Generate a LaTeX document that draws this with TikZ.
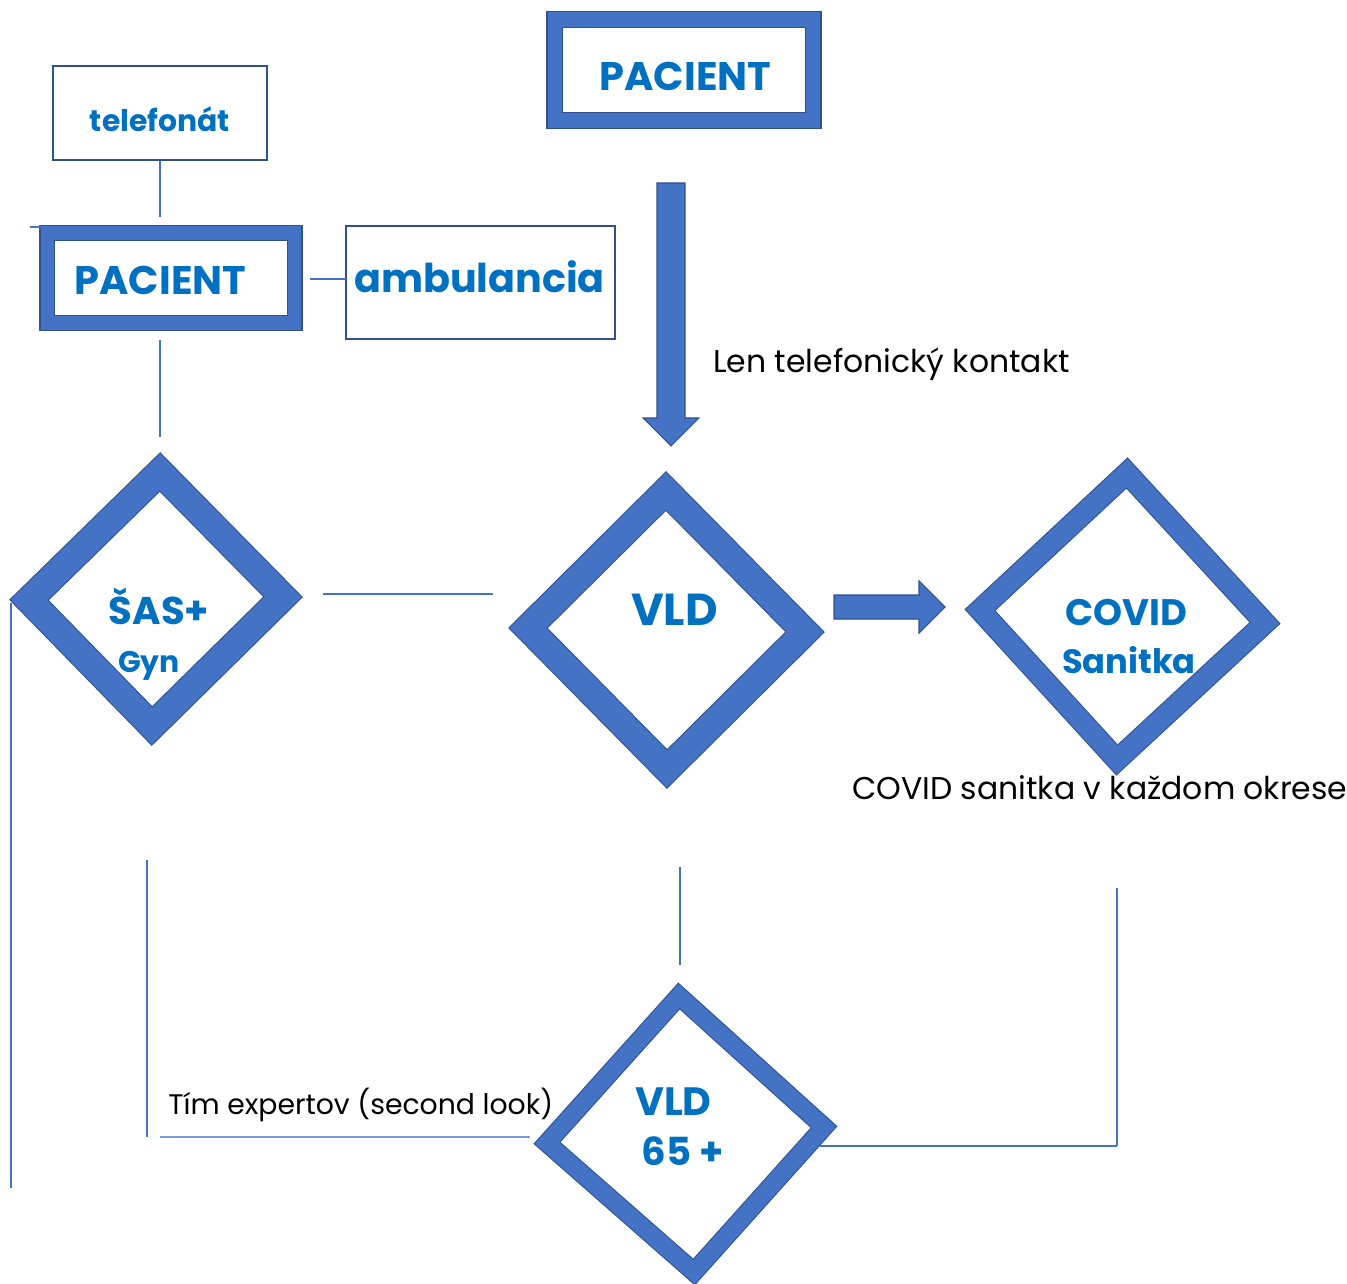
\documentclass[tikz,border=0pt]{standalone}
\usepackage{fontspec}
\setmainfont{Poppins}
\usetikzlibrary{positioning}
\definecolor{ringblue}{HTML}{4472C4}
\definecolor{ringedge}{HTML}{2F528F}
\definecolor{txtblue}{HTML}{0070C0}
\tikzset{
	ring/.style={draw=ringedge, double=ringblue, line width=0.6pt, line join=miter},
	thinbox/.style={draw=ringedge, line width=1.2pt, minimum width=#1},
	link/.style={draw=ringblue, line width=0.7pt},
	bluetxt/.style={text=txtblue, inner sep=0pt, anchor=base},
	blacktxt/.style={text=black, inner sep=0pt, anchor=base west},
	blockarrow/.style={fill=ringblue, draw=ringedge, line width=0.6pt, line join=miter}
}

\begin{document}
\begin{tikzpicture}[x=0.02cm, y=-0.02cm]
	\useasboundingbox (0,0) rectangle (1347,1284);

	%% Boxes
	\node[ring, double distance=0.29cm, minimum width=5.17cm, minimum height=2.02cm] (pac) at (684,70) {};
	\node[thinbox=4.28cm, minimum height=1.88cm] (tel) at (160,113) {};
	\node[ring, double distance=0.27cm, minimum width=4.95cm, minimum height=1.8cm] (pacl) at (171,278) {};
	\node[thinbox=5.38cm, minimum height=2.26cm] (amb) at (480.5,282.5) {};

	\node[bluetxt, font=\fontsize{22.7}{26}\selectfont\bfseries] (pac-t) at (685.5,91) {PACIENT};
	\node[bluetxt, font=\fontsize{17}{20}\selectfont\bfseries] (tel-t) at (160,132) {telefonát};
	\node[bluetxt, font=\fontsize{22.7}{26}\selectfont\bfseries] (pacl-t) at (160.5,295) {PACIENT};
	\node[bluetxt, font=\fontsize{22.6}{26}\selectfont\bfseries] (amb-t) at (479.5,293) {ambulancia};

	%% Block arrows
	\draw[blockarrow] (657,183) -- (685,183) -- (685,418) -- (699,418) -- (671,446)
		-- (643,418) -- (657,418) -- cycle;
	\draw[blockarrow] (834,595) -- (919,595) -- (919,581) -- (945,607) -- (919,633)
		-- (919,619) -- (834,619) -- cycle;

	%% Diamonds
	\draw[ring, double distance=0.52cm] (160,472) coordinate (sas-n) -- (283,597) coordinate (sas-e)
		-- (152,726) coordinate (sas-s) -- (29,600) coordinate (sas-w) -- cycle;
	\draw[ring, double distance=0.52cm] (666,491) coordinate (vld-n) -- (805,632) coordinate (vld-e)
		-- (667,769) coordinate (vld-s) -- (528,628) coordinate (vld-w) -- cycle;
	\draw[ring, double distance=0.40cm] (1127,473) coordinate (cov-n) -- (1265,623) coordinate (cov-e)
		-- (1117,760) coordinate (cov-s) -- (980,610) coordinate (cov-w) -- cycle;
	\draw[ring, double distance=0.34cm] (679,996) coordinate (old-n) -- (824,1127) coordinate (old-e)
		-- (694,1272) coordinate (old-s) -- (547,1143) coordinate (old-w) -- cycle;

	\node[bluetxt, font=\fontsize{22}{26}\selectfont\bfseries] (sas-t) at (159,624) {ŠAS+};
	\node[bluetxt, font=\fontsize{17}{20}\selectfont\bfseries] (gyn-t) at (149,672) {Gyn};
	\node[bluetxt, font=\fontsize{25.5}{30}\selectfont\bfseries] (vld-t) at (674.5,625) {VLD};
	\node[bluetxt, font=\fontsize{21}{25}\selectfont\bfseries] (cov-t) at (1126,625) {COVID};
	\node[bluetxt, font=\fontsize{19.2}{23}\selectfont\bfseries] (san-t) at (1129,673) {Sanitka};
	\node[bluetxt, font=\fontsize{22.5}{26}\selectfont\bfseries] (old-t) at (673.5,1115) {VLD};
	\node[bluetxt, font=\fontsize{22}{26}\selectfont\bfseries] (age-t) at (682.5,1165) {65 +};

	%% Notes
	\node[blacktxt, font=\fontsize{17.9}{21}\selectfont] (note-tel) at (713,373) {Len telefonický kontakt};
	\node[blacktxt, font=\fontsize{17.9}{21}\selectfont] (note-cov) at (852,799) {COVID sanitka v každom okrese};
	\node[blacktxt, font=\fontsize{16.1}{19}\selectfont] (note-exp) at (168,1114) {Tím expertov (second look)};

	%% Lines
	\coordinate (tel-end) at (160,217);
	\coordinate (stub-a) at (30,227);
	\coordinate (stub-b) at (55,227);
	\coordinate (pacl-e) at (310,279);
	\coordinate (amb-w) at (346,279);
	\coordinate (pacl-s) at (160,340);
	\coordinate (sas-top) at (160,437);
	\coordinate (mid-a) at (323,594);
	\coordinate (mid-b) at (493,594);
	\coordinate (left-a) at (11,603);
	\coordinate (left-b) at (11,1188);
	\coordinate (exp-a) at (147,860);
	\coordinate (exp-b) at (147,1137);
	\coordinate (exp-c) at (160,1137);
	\coordinate (exp-d) at (530,1137);
	\coordinate (vld-a) at (680,867);
	\coordinate (vld-b) at (680,965);
	\coordinate (cov-a) at (1117,888);
	\coordinate (cov-b) at (1117,1146);
	\coordinate (old-a) at (820,1146);

	\draw[link] (tel.south) -- (tel-end);
	\draw[link] (stub-a) -- (stub-b);
	\draw[link] (pacl-e) -- (amb-w);
	\draw[link] (pacl-s) -- (sas-top);
	\draw[link] (mid-a) -- (mid-b);
	\draw[link] (left-a) -- (left-b);
	\draw[link] (exp-a) -- (exp-b);
	\draw[link, ringblue!70, line width=1.3pt] (exp-c) -- (exp-d);
	\draw[link] (vld-a) -- (vld-b);
	\draw[link] (cov-a) -- (cov-b);
	\draw[link, line width=1pt] (old-a) -- (cov-b);
\end{tikzpicture}
\end{document}
